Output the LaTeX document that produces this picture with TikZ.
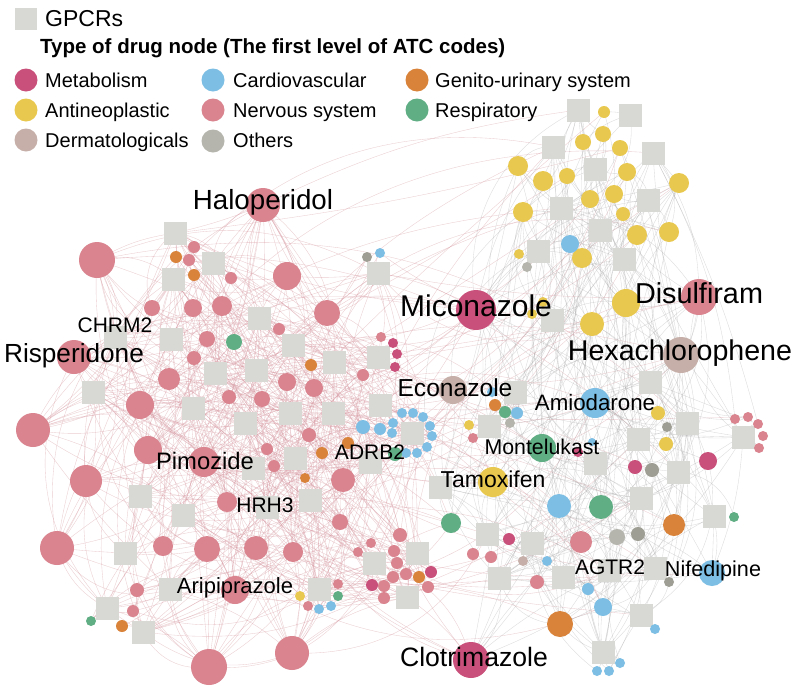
\documentclass[tikz,border=0pt]{standalone}
\usepackage{fontspec}
\setmainfont{Liberation Sans}
\pgfdeclarelayer{bgfill}
\pgfdeclarelayer{edges}
\pgfsetlayers{bgfill,edges,main}
\definecolor{cMet}{HTML}{C9507A}
\definecolor{cAnt}{HTML}{E8C84E}
\definecolor{cDer}{HTML}{C6AFA8}
\definecolor{cCar}{HTML}{7CBEE4}
\definecolor{cNer}{HTML}{D9848F}
\definecolor{cOth}{HTML}{B5B5AD}
\definecolor{cOthd}{HTML}{9E9E94}
\definecolor{cGen}{HTML}{D9833A}
\definecolor{cRes}{HTML}{5FAE84}
\definecolor{cGp}{HTML}{D8D9D4}
\definecolor{cEp}{HTML}{D89AA3}
\definecolor{cEg}{HTML}{A8A8A8}
\tikzset{
  drug/.style={circle, inner sep=0pt, draw=none},
  met/.style={drug, fill=cMet},
  ant/.style={drug, fill=cAnt},
  der/.style={drug, fill=cDer},
  car/.style={drug, fill=cCar},
  ner/.style={drug, fill=cNer},
  oth/.style={drug, fill=cOth},
  othd/.style={drug, fill=cOthd},
  gen/.style={drug, fill=cGen},
  res/.style={drug, fill=cRes},
  gpcr/.style={rectangle, fill=cGp, draw=none, inner sep=0pt, minimum size=23pt},
  epink/.style={draw=cEp, line width=0.35pt, opacity=0.5},
  egray/.style={draw=cEg, line width=0.35pt, opacity=0.42},
  lab/.style={inner sep=0pt, anchor=base, text=black},
  legtxt/.style={inner sep=0pt, anchor=base west, text=black, font=\fontsize{20}{24}\selectfont},
}
\def\LC{263/205/17/ner, 97/260/18/ner, 287/276/14/ner, 327/313/13/ner, 74/357/17/ner, 33/430/17/ner, 140/405/14/ner, 86/481/16/ner, 148/450/14/ner, 57/548/17/ner, 209/667/18/ner, 292/653/17/ner, 204/462/15/ner, 163/546/10/ner, 207/549/13/ner, 256/548/12/ner, 293/552/10/ner, 227/502/10/ner, 235/590/14/ner, 137/590/7/ner, 133/611/6/ner, 343/480/12/ner, 340/522/8/ner, 309/435/7/ner, 267/449/6/ner, 274/466/6/ner, 194/247/6/ner, 189/260/6/ner, 231/278/6/ner, 152/308/8/ner, 193/308/9/ner, 222/306/10/ner, 279/329/6/ner, 207/339/8/ner, 194/358/7/ner, 169/379/11/ner, 287/382/9/ner, 314/388/9/ner, 229/397/7/ner, 262/399/8/ner, 363/375/6/ner, 381/337/5/ner, 176/257/6/gen, 194/275/6/gen, 311/365/6/gen, 322/453/6/gen, 305/478/5/gen, 348/443/6/gen, 122/626/6/gen, 234/342/8/res, 91/621/5/res, 393/343/5/met, 397/354/5/met, 395/367/5/met, 367/257/5/othd, 380/253/5/car, 300/596/5/ant, 308/606/5/ner, 319/609/5/car, 331/606/5/car, 338/596/5/res, 338/584/5/ner, 402/413/5/car, 413/413/5/car, 423/417/5/car, 430/426/5/car, 432/436/5/car, 427/447/5/car, 417/453/5/car, 406/453/5/car, 392/433/5/car, 393/423/5/car, 395/454/7/res, 363/427/7/car, 380/429/6/car, 371/543/5/ner, 358/552/5/ner, 372/585/6/met, 384/586/6/ner, 384/598/6/ner, 400/535/7/ner, 394/551/6/ner, 397/563/6/ner, 406/574/6/ner, 393/577/6/ner, 419/577/6/gen, 431/572/6/met, 428/587/6/ner}
\def\LS{175/233, 213/263, 173/279, 259/318, 115/337, 171/339, 293/345, 334/362, 215/373, 256/370, 93/392, 193/408, 290/413, 333/413, 245/423, 295/458, 253/468, 140/496, 183/515, 267/507, 310/500, 125/553, 170/589, 107/608, 143/632, 319/589, 378/273, 378/357, 380/405, 370/462, 412/433, 374/563, 417/553, 407/597}
\def\RC{604/112/6/ant, 583/142/8/ant, 603/134/8/ant, 620/148/8/ant, 518/166/10/ant, 543/181/10/ant, 567/176/8/ant, 627/172/9/ant, 679/183/10/ant, 523/212/10/ant, 590/199/9/ant, 614/194/9/ant, 623/214/7/ant, 637/235/10/ant, 669/232/10/ant, 582/258/10/ant, 519/254/5/ant, 543/302/5/ant, 532/314/5/ant, 626/303/14/ant, 592/324/12/ant, 469/425/5/ant, 658/413/7/ant, 666/444/7/ant, 493/482/15/ant, 570/244/9/car, 595/403/15/car, 492/392/5/car, 517/413/6/car, 592/442/4/car, 559/506/12/car, 547/561/5/car, 588/589/6/car, 603/607/9/car, 655/629/5/car, 712/573/13/car, 597/671/5/car, 609/671/5/car, 620/663/5/car, 527/267/5/oth, 510/423/5/oth, 667/427/5/othd, 652/470/7/othd, 617/537/8/oth, 638/534/7/othd, 669/582/5/othd, 476/310/20/met, 578/452/5/met, 635/467/7/met, 708/461/9/met, 509/539/6/met, 471/660/18/met, 453/390/14/der, 681/355/18/der, 523/561/5/der, 699/297/18/ner, 581/542/11/ner, 473/554/6/ner, 491/557/6/ner, 537/582/7/ner, 735/419/5/ner, 748/417/5/ner, 758/424/5/ner, 763/436/5/ner, 759/448/5/ner, 473/438/5/ner, 495/405/6/gen, 674/525/11/gen, 560/624/13/gen, 542/448/14/res, 505/412/6/res, 601/507/12/res, 451/523/10/res, 734/517/5/res}
\def\RS{578/110, 630/115, 553/147, 653/153, 595/169, 561/208, 648/200, 600/230, 538/251, 624/259, 552/320, 650/382, 515/392, 489/426, 687/423, 638/439, 595/463, 678/472, 743/437, 440/487, 641/498, 487/534, 532/543, 714/516, 499/578, 563/577, 609/570, 655/568, 641/615, 603/652}
\begin{document}
\begin{tikzpicture}[x=1pt,y=-1pt]
\begin{pgfonlayer}{bgfill}
\fill[white] (0,0) rectangle (800,691);
\end{pgfonlayer}
\useasboundingbox (0,0) rectangle (800,691);
% squares
\foreach[count=\i] \sx/\sy in \LS {\node[gpcr] (LS\i) at (\sx,\sy) {};}
\foreach[count=\i] \sx/\sy in \RS {\node[gpcr] (RS\i) at (\sx,\sy) {};}
% drugs
\foreach[count=\i] \x/\y/\r/\c in \LC {\node[\c, minimum size={2*\r pt}] (L\i) at (\x,\y) {};}
\foreach[count=\i] \x/\y/\r/\c in \RC {\node[\c, minimum size={2*\r pt}] (R\i) at (\x,\y) {};}
% edges
\pgfmathsetseed{4242}
\begin{pgfonlayer}{edges}
\foreach[count=\i] \x/\y/\r/\c in \LC {
  \foreach[count=\j] \sx/\sy in \LS {
    \pgfmathsetmacro\d{100*veclen((\x-\sx)/100,(\y-\sy)/100)}
    \pgfmathsetmacro\p{(\r/18)^1.5*exp(-\d/280)+0.7*exp(-\d/30)}
    \pgfmathsetmacro\q{rnd}
    \ifdim\q pt<\p pt
      \pgfmathsetmacro\b{(rnd-0.5)*80}
      \draw[epink] (L\i.center) to[bend left=\b] (LS\j.center);
    \fi
  }
  \foreach[count=\j] \sx/\sy in \RS {
    \pgfmathsetmacro\d{100*veclen((\x-\sx)/100,(\y-\sy)/100)}
    \pgfmathsetmacro\p{0.35*(\r/18)^3*exp(-\d/250)+0.7*exp(-\d/30)}
    \pgfmathsetmacro\q{rnd}
    \ifdim\q pt<\p pt
      \pgfmathsetmacro\b{(rnd-0.5)*80}
      \draw[epink] (L\i.center) to[bend left=\b] (RS\j.center);
    \fi
  }
}
\foreach[count=\i] \x/\y/\r/\c in \RC {
  \foreach[count=\j] \sx/\sy in \RS {
    \pgfmathsetmacro\d{100*veclen((\x-\sx)/100,(\y-\sy)/100)}
    \pgfmathsetmacro\p{0.9*(\r/18)^1.5*exp(-\d/250)+0.7*exp(-\d/30)}
    \pgfmathsetmacro\q{rnd}
    \ifdim\q pt<\p pt
      \pgfmathsetmacro\b{(rnd-0.5)*80}
      \draw[egray] (R\i.center) to[bend left=\b] (RS\j.center);
    \fi
  }
  \foreach[count=\j] \sx/\sy in \LS {
    \pgfmathsetmacro\d{100*veclen((\x-\sx)/100,(\y-\sy)/100)}
    \pgfmathsetmacro\p{0.5*(\r/18)^3*exp(-\d/300)+0.7*exp(-\d/30)}
    \pgfmathsetmacro\q{rnd}
    \ifdim\q pt<\p pt
      \pgfmathsetmacro\b{(rnd-0.5)*80}
      \draw[epink] (R\i.center) to[bend left=\b] (LS\j.center);
    \fi
  }
}
\end{pgfonlayer}
% labels
\node[lab, font=\fontsize{27.7}{30}\selectfont] (tHal) at (263,209.5) {Haloperidol};
\node[lab, font=\fontsize{26.2}{30}\selectfont] (tRis) at (74,362.6) {Risperidone};
\node[lab, font=\fontsize{21}{24}\selectfont] (tCHR) at (115,332.5) {CHRM2};
\node[lab, font=\fontsize{23.8}{26}\selectfont] (tPim) at (205,469.5) {Pimozide};
\node[lab, font=\fontsize{21}{24}\selectfont] (tHRH) at (265,512.5) {HRH3};
\node[lab, font=\fontsize{21}{24}\selectfont] (tADR) at (370,459.5) {ADRB2};
\node[lab, font=\fontsize{22}{24}\selectfont] (tAri) at (235,593.6) {Aripiprazole};
\node[lab, font=\fontsize{30}{32}\selectfont] (tMic) at (476,316.7) {Miconazole};
\node[lab, font=\fontsize{28.8}{32}\selectfont] (tDis) at (699,303.3) {Disulfiram};
\node[lab, font=\fontsize{28.6}{32}\selectfont] (tHex) at (680,360.2) {Hexachlorophene};
\node[lab, font=\fontsize{24.6}{28}\selectfont] (tEco) at (455,396.8) {Econazole};
\node[lab, font=\fontsize{22.3}{24}\selectfont] (tAmi) at (595,410) {Amiodarone};
\node[lab, font=\fontsize{21.3}{24}\selectfont] (tMon) at (542,454.6) {Montelukast};
\node[lab, font=\fontsize{23}{26}\selectfont] (tTam) at (493,487.2) {Tamoxifen};
\node[lab, font=\fontsize{21}{24}\selectfont] (tAGT) at (610,574.5) {AGTR2};
\node[lab, font=\fontsize{21.6}{24}\selectfont] (tNif) at (713,576.5) {Nifedipine};
\node[lab, font=\fontsize{26.6}{30}\selectfont] (tClo) at (474,666.5) {Clotrimazole};
% legend
\node[gpcr, minimum size=22pt] (lgG) at (26,19) {};
\node[inner sep=0pt, anchor=west, font=\fontsize{23}{26}\selectfont] (lgGt) at (45,19) {GPCRs};
\node[inner sep=0pt, anchor=west, font=\fontsize{20.5}{24}\bfseries] (lgT) at (40,48) {Type of drug node (The first level of ATC codes)};
\node[met, minimum size=23pt] (lg1) at (26,80) {};
\node[legtxt] (lg1t) at (45,87.2) {Metabolism};
\node[ant, minimum size=23pt] (lg2) at (26,110) {};
\node[legtxt] (lg2t) at (45,117.2) {Antineoplastic};
\node[der, minimum size=23pt] (lg3) at (26,140) {};
\node[legtxt] (lg3t) at (45,147.2) {Dermatologicals};
\node[car, minimum size=23pt] (lg4) at (213,80) {};
\node[legtxt] (lg4t) at (233,87.2) {Cardiovascular};
\node[ner, minimum size=23pt] (lg5) at (213,110) {};
\node[legtxt] (lg5t) at (233,117.2) {Nervous system};
\node[oth, minimum size=23pt] (lg6) at (213,141) {};
\node[legtxt] (lg6t) at (233,147.2) {Others};
\node[gen, minimum size=23pt] (lg7) at (417,80) {};
\node[legtxt] (lg7t) at (435,87.2) {Genito-urinary system};
\node[res, minimum size=23pt] (lg8) at (417,110) {};
\node[legtxt] (lg8t) at (435,117.2) {Respiratory};
\end{tikzpicture}
\end{document}
